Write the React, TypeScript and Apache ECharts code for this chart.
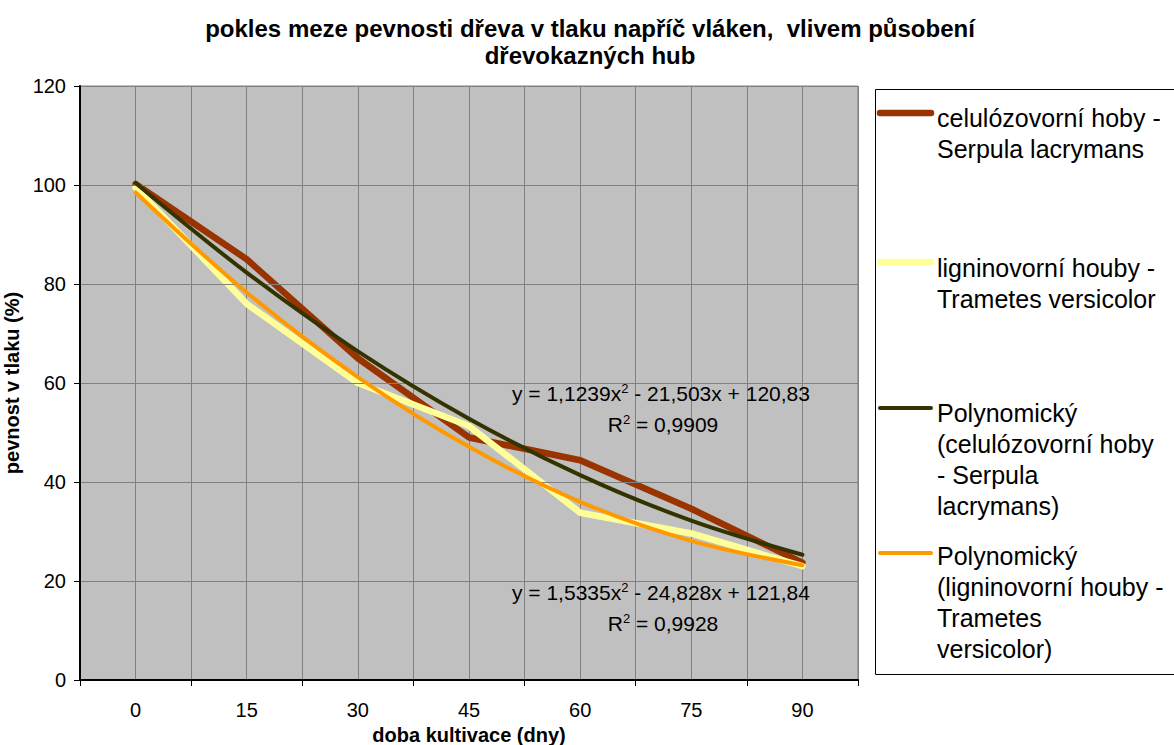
import React, { useEffect, useRef } from "react";
import * as echarts from "echarts";

const categories = ["0", "15", "30", "45", "60", "75", "90"];
const serpula = [100.2, 85, 65, 49, 44.4, 34.6, 23.7];
const trametes = [99.5, 76, 60, 51.3, 33.8, 29.6, 23];
const polySerpula = [100.4, 82.3, 66.4, 52.8, 41.4, 32.2, 25.3];
const polyTrametes = [98.5, 78.3, 61.2, 47.1, 36.0, 28.1, 23.2];

const titleLines = ["pokles meze pevnosti dřeva v tlaku napříč vláken,  vlivem působení", "dřevokazných hub"];
const xName = "doba kultivace (dny)";
const yName = "pevnost v tlaku (%)";
const seriesNames = [
  "celulózovorní hoby - Serpula lacrymans",
  "ligninovorní houby - Trametes versicolor",
  "Polynomický (celulózovorní hoby - Serpula lacrymans)",
  "Polynomický (ligninovorní houby - Trametes versicolor)",
];
const legendLines = [
  "celulózovorní hoby -\nSerpula lacrymans",
  "ligninovorní houby -\nTrametes versicolor",
  "Polynomický\n(celulózovorní hoby\n- Serpula\nlacrymans)",
  "Polynomický\n(ligninovorní houby -\nTrametes\nversicolor)",
];
const equations = [
  ["1,1239", "21,503", "120,83", "0,9909"],
  ["1,5335", "24,828", "121,84", "0,9928"],
];
const colors = ["#993300", "#FFFF99", "#333300", "#FF9900"];
const widths = [6.5, 6.5, 4, 4];

const FONT = "Arial, 'Liberation Sans', sans-serif";

export default function App() {
  const ref = useRef<HTMLDivElement>(null);
  useEffect(() => {
    if (!ref.current) return;
    const chart = echarts.init(ref.current, undefined, { renderer: "svg" });
    const legendIconY = [113, 262, 408, 553];
    const legendTextY = [118, 268, 413, 556];
    const legendGraphics: any[] = [
      {
        type: "rect",
        shape: { x: 875.5, y: 89.5, width: 320, height: 585 },
        style: { fill: "#ffffff", stroke: "#000000", lineWidth: 1 },
        z: 1,
      },
    ];
    legendLines.forEach((t, i) => {
      legendGraphics.push({
        type: "line",
        shape: { x1: 880, y1: legendIconY[i], x2: 931, y2: legendIconY[i] },
        style: { stroke: colors[i], lineWidth: widths[i], lineCap: "round" },
        z: 2,
      });
      legendGraphics.push({
        type: "text",
        x: 937,
        y: legendTextY[i] - 15.5,
        style: {
          text: t,
          font: `25px ${FONT}`,
          fill: "#000000",
          lineHeight: 31,
          verticalAlign: "top",
          align: "left",
        },
        z: 2,
      });
    });
    const eqStyle = (text: string) => ({
      text,
      font: `21px ${FONT}`,
      fill: "#000000",
      rich: {
        n: { fontSize: 21, fontFamily: FONT, color: "#000" },
        s: { fontSize: 13, fontFamily: FONT, color: "#000", verticalAlign: "top", padding: [0, 0, 9, 0] },
      },
      verticalAlign: "middle",
    });
    const eqGraphics: any[] = [];
    const eqY = [393, 592];
    equations.forEach((e, i) => {
      eqGraphics.push({
        type: "text",
        x: 512,
        y: eqY[i],
        style: eqStyle(`{n|y = ${e[0]}x}{s|2}{n| - ${e[1]}x + ${e[2]}}`),
        z: 20,
      });
      eqGraphics.push({
        type: "text",
        x: 663,
        y: eqY[i] + 31,
        style: { ...eqStyle(`{n|R}{s|2}{n| = ${e[3]}}`), align: "center" },
        z: 20,
      });
    });
    const titleGraphics = titleLines.map((t, i) => ({
      type: "text",
      x: 590,
      y: 28 + i * 27,
      style: {
        text: t,
        font: `bold 24px ${FONT}`,
        fill: "#000",
        align: "center",
        verticalAlign: "middle",
      },
    }));
    const option: any = {
      animation: false,
      backgroundColor: "#ffffff",
      textStyle: { fontFamily: FONT },
      grid: {
        left: 80,
        top: 86,
        width: 778,
        height: 594,
        show: true,
        backgroundColor: "#C0C0C0",
        borderColor: "#808080",
        borderWidth: 1,
        containLabel: false,
        outerBoundsMode: "none",
      },
      xAxis: [
        {
          type: "category",
          data: categories,
          boundaryGap: true,
          axisLine: { show: true, onZero: false, lineStyle: { color: "#000", width: 2 } },
          axisTick: { show: true, length: 6, lineStyle: { color: "#000" } },
          axisLabel: { fontSize: 20, color: "#000", margin: 20, fontFamily: FONT },
          splitLine: { show: false },
          name: xName,
          nameLocation: "middle",
          nameGap: 42,
          nameTextStyle: { fontSize: 20, fontWeight: "bold", color: "#000", fontFamily: FONT },
          z: 5,
        },
        {
          type: "value",
          min: -0.5,
          max: 6.5,
          interval: 0.5,
          position: "top",
          axisLine: { show: false, onZero: false },
          axisTick: { show: false },
          axisLabel: { show: false },
          splitLine: { show: true, lineStyle: { color: "#808080", width: 1 } },
        },
      ],
      yAxis: {
        type: "value",
        min: 0,
        max: 120,
        interval: 20,
        position: "left",
        axisLine: { show: true, onZero: false, lineStyle: { color: "#000", width: 2 } },
        axisTick: { show: true, length: 6, lineStyle: { color: "#000" } },
        axisLabel: { fontSize: 20, color: "#000", margin: 14, fontFamily: FONT },
        splitLine: { show: true, lineStyle: { color: "#808080", width: 1 } },
        name: yName,
        nameLocation: "middle",
        nameGap: 48,
        nameRotate: 90,
        nameTextStyle: { fontSize: 20, fontWeight: "bold", color: "#000", fontFamily: FONT },
        z: 5,
      },
      series: [
        { data: serpula, smooth: false },
        { data: trametes, smooth: false },
        { data: polySerpula, smooth: 0.35 },
        { data: polyTrametes, smooth: 0.35 },
      ].map((s, i) => ({
        name: seriesNames[i],
        type: "line",
        xAxisIndex: 0,
        data: s.data,
        smooth: s.smooth,
        symbol: "none",
        lineStyle: { color: colors[i], width: widths[i], cap: "round", join: "round" },
        itemStyle: { color: colors[i] },
        z: 3 + i,
      })),
      graphic: [
        ...titleGraphics,
        ...legendGraphics,
        ...eqGraphics,
        {
          type: "line",
          shape: { x1: 80, y1: 86, x2: 80, y2: 681 },
          style: { stroke: "#000", lineWidth: 2 },
          z: 30,
        },
      ],
    };
    chart.setOption(option);
    return () => chart.dispose();
  }, []);
  return (
    <div
      ref={ref}
      style={{ position: "fixed", left: 0, top: 0, width: 1174, height: 745, background: "#fff" }}
    />
  );
}
